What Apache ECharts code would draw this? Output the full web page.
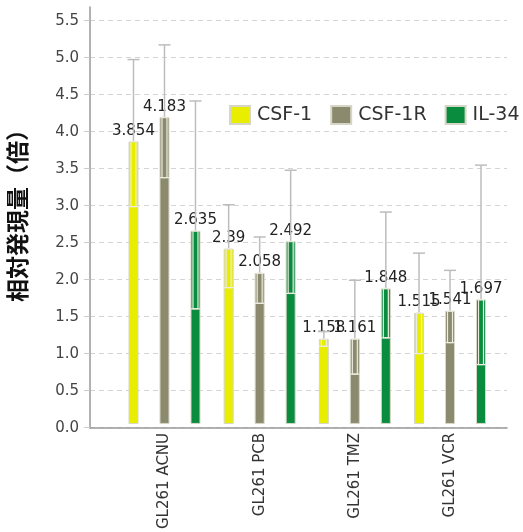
<!DOCTYPE html>
<html><head><meta charset="utf-8">
<script src="https://cdn.jsdelivr.net/npm/echarts@6/dist/echarts.min.js"></script>
<style>html,body{margin:0;padding:0;background:#fff}#c{width:523px;height:532px}</style>
</head><body><div id="c"></div>
<script>
const categories = ['GL261 ACNU', 'GL261 PCB', 'GL261 TMZ', 'GL261 VCR'];
const seriesNames = ['CSF-1', 'CSF-1R', 'IL-34'];
const csf1Values  = [3.854, 2.39, 1.158, 1.515];
const csf1rValues = [4.183, 2.058, 1.161, 1.541];
const il34Values  = [2.635, 2.492, 1.848, 1.697];
const csf1Upper  = [4.97, 2.99, 1.26, 2.33];
const csf1Lower  = [2.965, 1.86, 1.06, 0.96];
const csf1rUpper = [5.17, 2.55, 1.96, 2.095];
const csf1rLower = [3.36, 1.645, 0.68, 1.11];
const il34Upper  = [4.405, 3.46, 2.89, 3.53];
const il34Lower  = [1.57, 1.78, 1.175, 0.81];
const yTicks = [0, 0.5, 1, 1.5, 2, 2.5, 3, 3.5, 4, 4.5, 5, 5.5];

const colors = ['#e9ee00', '#8b8a6e', '#0a8c3f'];
const values = [csf1Values, csf1rValues, il34Values];
const uppers = [csf1Upper, csf1rUpper, il34Upper];
const lowers = [csf1Lower, csf1rLower, il34Lower];
const BAR_W = 10, BAR_GAP = 2.1;
const BAR_STEP = BAR_W * (1 + BAR_GAP);
const FONT = 'DejaVu Sans';

const chart = echarts.init(document.getElementById('c'), null, {renderer: 'canvas'});

const grids = [
  {left: 90, right: 16, top: 20.7, bottom: 104.3},
  {left: 90, right: 16, top: 7, bottom: 104.3},
  {left: 116.9, right: 25.4, top: 20.7, bottom: 104.3}
];

const series = [];
seriesNames.forEach((name, si) => {
  series.push({
    name, type: 'bar', xAxisIndex: 2, yAxisIndex: 2,
    data: values[si], barWidth: BAR_W, barGap: (BAR_GAP * 100) + '%',
    itemStyle: {color: colors[si], borderColor: '#d6d6c6', borderWidth: 1},
    label: {show: true, position: 'top', distance: 3, fontFamily: FONT, fontSize: 15, color: '#222',
      formatter: p => String(p.value)},
    z: 2
  });
});
seriesNames.forEach((name, si) => {
  series.push({
    name: 'err' + si, type: 'custom', xAxisIndex: 2, yAxisIndex: 2, z: 3,
    encode: {x: 0, y: 1},
    data: categories.map((c, i) => [i, values[si][i], lowers[si][i], uppers[si][i]]),
    renderItem(params, api) {
      const ci = api.value(0);
      const x0 = api.coord([ci, 0])[0] + (si - 1) * BAR_STEP;
      const yv = api.coord([ci, api.value(1)])[1];
      const yl = api.coord([ci, api.value(2)])[1];
      const yu = api.coord([ci, api.value(3)])[1];
      const outer = {stroke: '#bdbdbd', lineWidth: 1.5};
      const inner = {stroke: '#ebebe0', lineWidth: 1.2, fill: null};
      return {type: 'group', children: [
        {type: 'line', shape: {x1: x0, y1: yu, x2: x0, y2: yv}, style: outer},
        {type: 'line', shape: {x1: x0 - 6, y1: yu, x2: x0 + 6, y2: yu}, style: outer},
        {type: 'rect', shape: {x: x0 - 2.5, y: yv, width: 5, height: yl - yv}, style: inner},
        {type: 'line', shape: {x1: x0 - 5, y1: yl, x2: x0 + 5, y2: yl}, style: inner}
      ]};
    }
  });
});

chart.setOption({
  animation: false,
  backgroundColor: '#fff',
  grid: grids,
  legend: {
    data: seriesNames, left: 224, top: 100, width: 400, icon: 'rect', itemWidth: 20, itemHeight: 18, itemGap: 18,
    textStyle: {fontFamily: FONT, fontSize: 19, color: '#333', padding: [0, 0, 0, 2]}
  },
  xAxis: [
    {gridIndex: 0, type: 'category', data: categories, show: false},
    {gridIndex: 1, type: 'category', data: categories,
      axisLine: {show: true, lineStyle: {color: '#999', width: 1.5}},
      axisTick: {show: false}, axisLabel: {show: false}, splitLine: {show: false}},
    {gridIndex: 2, type: 'category', data: categories,
      axisLine: {show: false}, axisTick: {show: false}, splitLine: {show: false},
      axisLabel: {rotate: 90, margin: 9, fontFamily: FONT, fontSize: 15, color: '#333', interval: 0}}
  ],
  yAxis: [
    {gridIndex: 0, type: 'value', min: 0, max: yTicks[yTicks.length - 1], interval: 0.5,
      axisLine: {show: false},
      axisTick: {show: true, length: 6, lineStyle: {color: '#ccc'}},
      axisLabel: {margin: 11, fontFamily: FONT, fontSize: 15, color: '#444', formatter: v => v.toFixed(1)},
      splitLine: {show: true, lineStyle: {color: '#d4d4d4', type: [5, 4], width: 1}}},
    {gridIndex: 1, type: 'value', min: 0, max: 5.69,
      axisLine: {show: true, lineStyle: {color: '#999', width: 1.5}},
      axisTick: {show: false}, axisLabel: {show: false}, splitLine: {show: false}},
    {gridIndex: 2, type: 'value', min: 0, max: yTicks[yTicks.length - 1], interval: 0.5, show: false,
      splitLine: {show: false}}
  ],
  graphic: [{
    type: 'text', x: 17, y: 210, rotation: Math.PI / 2,
    style: {text: '相対発現量（倍）', fontFamily: 'Noto Sans CJK JP', fontSize: 23, fontWeight: 'bold',
      fill: '#111', textAlign: 'center', textVerticalAlign: 'middle'}
  }],
  series
});
</script></body></html>
